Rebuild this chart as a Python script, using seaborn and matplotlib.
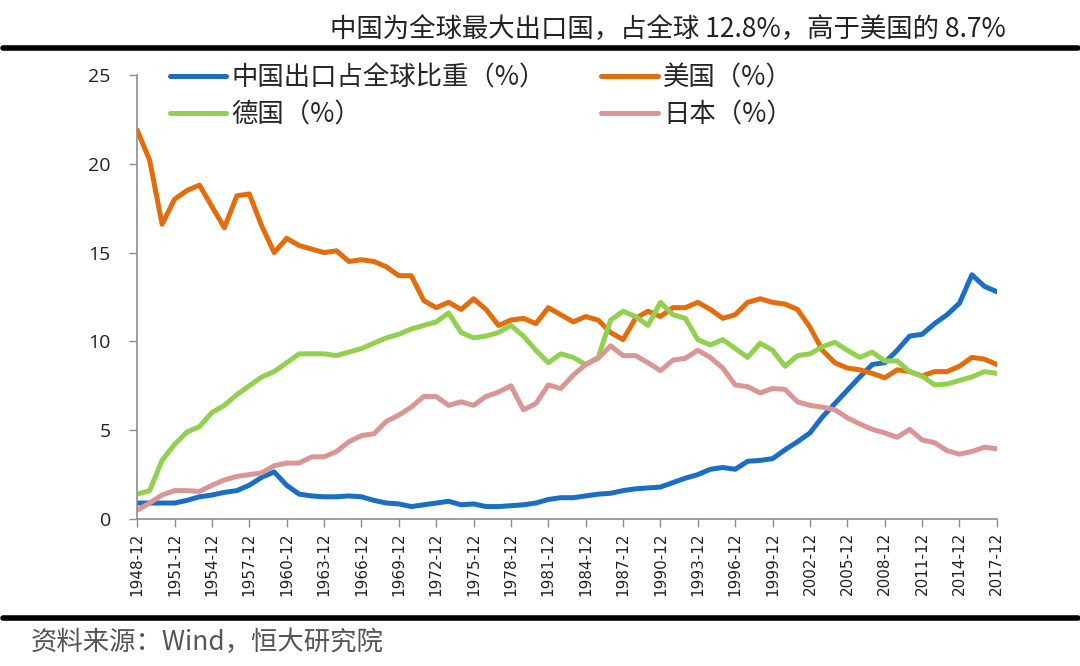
import numpy as np
import pandas as pd
import seaborn as sns
import matplotlib.pyplot as plt
from matplotlib.lines import Line2D

# annual share of world exports (%)
years = list(range(1948, 2018))

china = [0.9, 0.9, 0.9, 0.9, 1.05, 1.25, 1.35, 1.5, 1.6, 1.9,
         2.35, 2.65, 1.9, 1.4, 1.3, 1.25, 1.25, 1.3, 1.25, 1.05,
         0.9, 0.85, 0.7, 0.8, 0.9, 1.0, 0.8, 0.85, 0.7, 0.7,
         0.75, 0.8, 0.9, 1.1, 1.2, 1.2, 1.3, 1.4, 1.45, 1.6,
         1.7, 1.75, 1.8, 2.05, 2.3, 2.5, 2.8, 2.9, 2.8, 3.25,
         3.3, 3.4, 3.9, 4.35, 4.85, 5.75, 6.5, 7.25, 8.0, 8.7,
         8.8, 9.5, 10.3, 10.4, 11.0, 11.5, 12.15, 13.75, 13.1, 12.8]

usa = [21.9, 20.2, 16.6, 18.0, 18.5, 18.8, 17.6, 16.4, 18.2, 18.3,
       16.5, 15.0, 15.8, 15.4, 15.2, 15.0, 15.1, 14.5, 14.6, 14.5,
       14.2, 13.7, 13.7, 12.3, 11.9, 12.2, 11.8, 12.4, 11.8, 10.9,
       11.2, 11.3, 11.0, 11.9, 11.5, 11.1, 11.4, 11.2, 10.5, 10.1,
       11.3, 11.7, 11.4, 11.9, 11.9, 12.2, 11.8, 11.3, 11.5, 12.2,
       12.4, 12.2, 12.1, 11.8, 10.8, 9.5, 8.8, 8.5, 8.4, 8.2,
       7.95, 8.4, 8.3, 8.05, 8.3, 8.3, 8.6, 9.1, 9.0, 8.7]

germany = [1.4, 1.6, 3.3, 4.2, 4.9, 5.2, 6.0, 6.4, 7.0, 7.5,
           8.0, 8.3, 8.8, 9.3, 9.3, 9.3, 9.2, 9.4, 9.6, 9.9,
           10.2, 10.4, 10.7, 10.9, 11.1, 11.6, 10.5, 10.2, 10.3, 10.5,
           10.9, 10.3, 9.5, 8.8, 9.3, 9.1, 8.7, 9.1, 11.2, 11.7,
           11.4, 10.9, 12.2, 11.5, 11.3, 10.1, 9.8, 10.1, 9.6, 9.1,
           9.9, 9.5, 8.6, 9.2, 9.3, 9.7, 9.95, 9.5, 9.1, 9.4,
           8.9, 8.9, 8.3, 8.05, 7.55, 7.6, 7.8, 8.0, 8.3, 8.2]

japan = [0.5, 0.9, 1.35, 1.6, 1.6, 1.55, 1.9, 2.2, 2.4, 2.5,
         2.6, 3.0, 3.15, 3.15, 3.5, 3.5, 3.8, 4.35, 4.7, 4.8,
         5.5, 5.85, 6.3, 6.9, 6.9, 6.4, 6.6, 6.4, 6.9, 7.15,
         7.5, 6.15, 6.5, 7.55, 7.35, 8.1, 8.7, 9.05, 9.75, 9.2,
         9.2, 8.8, 8.35, 8.95, 9.05, 9.5, 9.1, 8.5, 7.55, 7.45,
         7.1, 7.35, 7.3, 6.6, 6.4, 6.3, 6.15, 5.7, 5.35, 5.05,
         4.85, 4.6, 5.05, 4.45, 4.3, 3.85, 3.65, 3.8, 4.05, 3.95]

names = ['中国出口占全球比重（%）', '美国（%）', '德国（%）', '日本（%）']
colors = ['#1a6fc4', '#e46c0a', '#92d050', '#d99694']
tick_years = list(range(1948, 2018, 3))
tick_labels = [f'{y}-12' for y in tick_years]

df = pd.DataFrame({'year': years * 4,
                   'share': china + usa + germany + japan,
                   'series': np.repeat(names, len(years))})

sns.set_style('white')
plt.rcParams['font.family'] = ['Noto Sans CJK SC', 'DejaVu Sans']

fig = plt.figure(figsize=(10.8, 6.66), dpi=100)
ax = fig.add_axes([0.127, 0.2207, 0.796, 0.6667])

sns.lineplot(data=df, x='year', y='share', hue='series', hue_order=names,
             palette=colors, linewidth=3.6, ax=ax, legend=False)

ax.set_xlim(1948, 2017)
ax.set_ylim(0, 25)
ax.set_xlabel('')
ax.set_ylabel('')
ax.set_yticks([0, 5, 10, 15, 20, 25])
ax.set_yticklabels(['0', '5', '10', '15', '20', '25'], fontsize=14,
                   family=['Open Sans', 'DejaVu Sans'], color='#222222')
ax.set_xticks(tick_years)
ax.set_xticklabels(tick_labels, rotation=90, fontsize=11,
                   family=['DejaVu Sans'], color='#222222')
ax.tick_params(axis='both', direction='out', length=6, width=1,
               color='#8c8c8c', left=True, bottom=True)
ax.tick_params(axis='y', pad=13)
for side in ['top', 'right']:
    ax.spines[side].set_visible(False)
for side in ['left', 'bottom']:
    ax.spines[side].set_color('#8c8c8c')
    ax.spines[side].set_linewidth(1.2)

# legend: two columns, China/Germany on the left, US/Japan on the right
handles = [Line2D([], [], color=c, linewidth=3.6) for c in colors]
order = [0, 2, 1, 3]
ax.legend([handles[i] for i in order], [names[i] for i in order],
          ncol=2, frameon=False, fontsize=19, handlelength=2.15,
          handletextpad=0.2, columnspacing=2.1, labelspacing=0.38,
          loc='upper left', bbox_to_anchor=(0.157, 0.903),
          bbox_transform=fig.transFigure, borderpad=0, borderaxespad=0)

fig.text(0.931, 0.956, '中国为全球最大出口国，占全球 12.8%，高于美国的 8.7%',
         ha='right', va='center', fontsize=19, color='#222222')
fig.add_artist(Line2D([0.003, 0.998], [0.928, 0.928], color='black',
                      linewidth=4, transform=fig.transFigure))
fig.add_artist(Line2D([0.003, 0.998], [0.072, 0.072], color='black',
                      linewidth=4, transform=fig.transFigure))
fig.text(0.028, 0.036, '资料来源：Wind，恒大研究院', ha='left', va='center',
         fontsize=19, color='#555555', style='italic')

fig.savefig('out.png', dpi=100)
